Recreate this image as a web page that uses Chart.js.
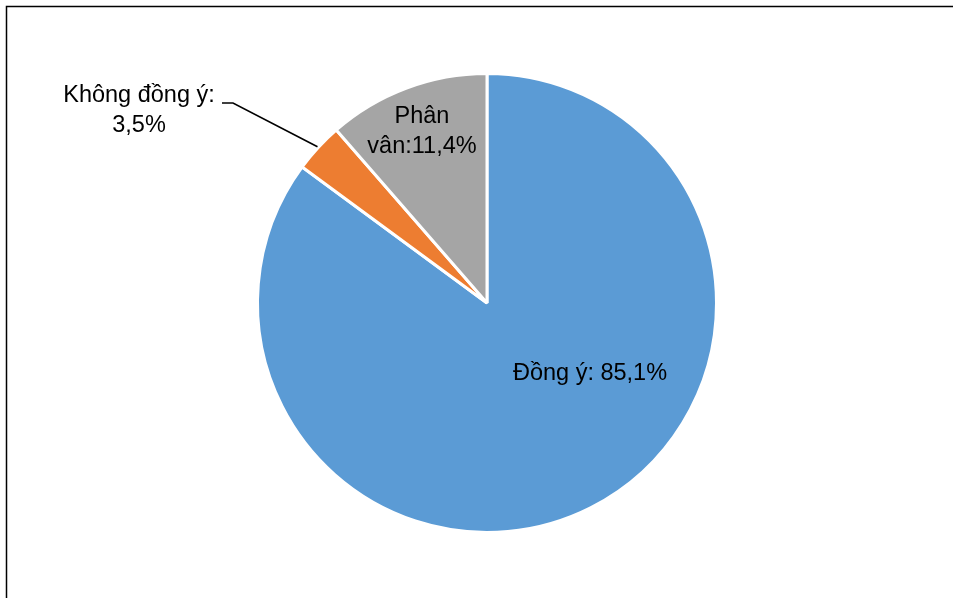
<!DOCTYPE html>
<html>
<head>
<meta charset="utf-8">
<script src="https://cdn.jsdelivr.net/npm/chart.js@4/dist/chart.umd.min.js"></script>
<style>
  html, body { margin: 0; padding: 0; background: #fff; }
  #wrap { width: 957px; height: 598px; position: relative; }
</style>
</head>
<body>
<div id="wrap"><canvas id="myChart"></canvas></div>
<script>
// data
const categories = ['Đồng ý', 'Không đồng ý', 'Phân vân'];
const shares = [85.1, 3.5, 11.4];
const sliceColors = ['#5B9BD5', '#ED7D31', '#A5A5A5'];
const labelLines = [
    ['Đồng ý: 85,1%'],
    ['Không đồng ý:', '3,5%'],
    ['Phân', 'vân:11,4%']
];

// where each label sits, relative to the pie centre (px)
const labelOffsets = [
    { dx: 103, dy: 77 },
    { dx: -348, dy: -201 },
    { dx: -65, dy: -180 }
];

const frame = {
    id: 'frame',
    beforeDraw(chart) {
        const c = chart.ctx;
        c.save();
        c.strokeStyle = '#000';
        c.lineWidth = 1.5;
        c.beginPath();
        c.moveTo(6.5, 598);
        c.lineTo(6.5, 6.5);
        c.lineTo(953, 6.5);
        c.stroke();
        c.restore();
    }
};

const sliceLabels = {
    id: 'sliceLabels',
    afterDraw(chart) {
        const c = chart.ctx;
        const arcs = chart.getDatasetMeta(0).data;
        const cx = arcs[0].x, cy = arcs[0].y;
        c.save();
        c.font = '23.5px "Liberation Sans", Arial, sans-serif';
        c.fillStyle = '#000';
        c.textAlign = 'center';
        c.textBaseline = 'alphabetic';
        labelLines.forEach((lines, i) => {
            const o = labelOffsets[i];
            lines.forEach((t, j) => {
                c.fillText(t, cx + o.dx, cy + o.dy + j * 30);
            });
        });

        // leader line for the small slice
        const a = arcs[1];
        const mid = (a.startAngle + a.endAngle) / 2;
        const ex = cx + Math.cos(mid) * (a.outerRadius + 1);
        const ey = cy + Math.sin(mid) * (a.outerRadius + 1);
        c.strokeStyle = '#000';
        c.lineWidth = 1.6;
        c.beginPath();
        c.moveTo(222, 103);
        c.lineTo(233, 103);
        c.lineTo(ex, ey);
        c.stroke();
        c.restore();
    }
};

var ctx = document.getElementById('myChart').getContext('2d');
var myChart = new Chart(ctx, {
    type: 'pie',
    data: {
        labels: categories,
        datasets: [{
            data: shares,
            backgroundColor: sliceColors,
            borderColor: '#fff',
            borderWidth: 3
        }]
    },
    options: {
        responsive: true,
        maintainAspectRatio: false,
        animation: false,
        layout: {
            padding: { left: 256, right: 239, top: 72, bottom: 64 }
        },
        plugins: {
            legend: { display: false },
            tooltip: { enabled: false }
        }
    },
    plugins: [frame, sliceLabels]
});
</script>
</body>
</html>
